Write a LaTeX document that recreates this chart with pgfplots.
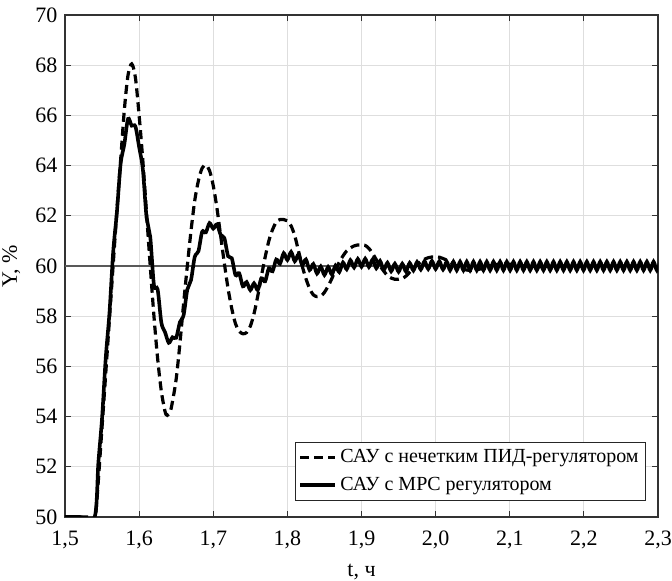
\documentclass[border=0pt]{standalone}
\usepackage{fontspec}
\setmainfont{Liberation Serif}
\usepackage{pgfplots}
\pgfplotsset{compat=1.18}

\begin{document}
\fontsize{11}{13}\selectfont
\begin{tikzpicture}
\begin{axis}[
  scale only axis, width=296.5pt, height=251pt,
  xmin=1.5, xmax=2.3, ymin=50, ymax=70,
  xtick={1.5,1.6,1.7,1.8,1.9,2.0,2.1,2.2,2.3},
  ytick={50,52,54,56,58,60,62,64,66,68,70},
  grid=major, grid style={black!13, line width=0.5pt},
  tick align=inside, major tick length=3pt,
  tick style={black!80, line width=0.5pt},
  axis line style={black!80, line width=0.6pt},
  tick label style={font=\fontsize{11}{13}\selectfont},
  label style={font=\fontsize{11}{13}\selectfont},
  /pgf/number format/assume math mode=true,
  x tick label style={yshift=-3pt, /pgf/number format/fixed, /pgf/number format/fixed zerofill, /pgf/number format/precision=1, /pgf/number format/use comma},
  xlabel={t, ч}, ylabel={Y, \%},
  legend style={at={(0.98,0.032)}, anchor=south east, draw=black!85, line width=0.5pt,
    font=\fontsize{10}{12}\selectfont, row sep=1.5pt, inner sep=1.5pt},
  legend cell align=left,
]
\coordinate (ll) at (rel axis cs:0,0);
\coordinate (ur) at (rel axis cs:1,1);
\addplot[black!65, line width=0.7pt, forget plot] coordinates {(1.5,60) (2.3,60)};

\addplot[black, line width=1.6pt, dash pattern=on 4.5pt off 2.5pt, smooth, tension=0.5] coordinates {
(1.500,50) (1.520,50) (1.535,50) (1.541,50) (1.550,53.6) (1.560,57.9) (1.570,62.2)
(1.575,64.2) (1.580,66.2) (1.585,67.6) (1.590,68.05) (1.595,67.5) (1.600,66.0)
(1.605,64.2) (1.610,62.1) (1.615,60.0) (1.620,58.0) (1.625,56.3) (1.630,55.0)
(1.635,54.2) (1.638,54.05) (1.642,54.2) (1.645,54.6) (1.650,55.5) (1.655,56.9)
(1.660,58.5) (1.665,60.0) (1.670,61.4) (1.675,62.6) (1.680,63.4) (1.685,63.9)
(1.690,64.02) (1.695,63.8) (1.700,63.2) (1.705,62.3) (1.710,61.2) (1.715,60.1)
(1.720,59.1) (1.725,58.3) (1.730,57.7) (1.735,57.4) (1.740,57.3) (1.745,57.35)
(1.750,57.6) (1.755,58.1) (1.760,58.8) (1.765,59.6) (1.770,60.35) (1.775,61.0)
(1.780,61.45) (1.785,61.75) (1.790,61.85) (1.795,61.85) (1.800,61.8) (1.805,61.6)
(1.810,61.2) (1.815,60.6) (1.820,60.0) (1.825,59.5) (1.830,59.1) (1.835,58.85)
(1.840,58.78) (1.845,58.8) (1.850,58.95) (1.855,59.2) (1.860,59.5) (1.865,59.85)
(1.870,60.15) (1.875,60.4) (1.880,60.6) (1.885,60.72) (1.890,60.8) (1.895,60.84)
(1.900,60.84) (1.905,60.82) (1.910,60.7) (1.915,60.5) (1.920,60.25) (1.925,60.0)
(1.930,59.8) (1.935,59.62) (1.940,59.52) (1.945,59.47) (1.950,59.47) (1.955,59.5)
(1.960,59.6) (1.965,59.75) (1.970,59.9) (1.975,60.05) (1.980,60.17) (1.985,60.27)
(1.990,60.33) (1.995,60.36) (2.000,60.36) (2.005,60.35) (2.010,60.3) (2.020,60.15)
(2.030,59.97) (2.040,59.85) (2.050,59.82) (2.060,59.88) (2.070,59.97) (2.080,60.05)
(2.090,60.08) (2.100,60.07) (2.120,60.0) (2.140,59.97) (2.160,60.0) (2.200,60.0)
(2.300,60.0)
};
\addlegendentry{САУ с нечетким ПИД-регулятором}

\addplot[black, line width=1.8pt, smooth, tension=0.5] coordinates {
(1.500,50) (1.520,50) (1.540,50) (1.545,52.16) (1.550,53.94) (1.555,56.36) (1.560,58.14)
(1.565,60.56) (1.570,62.14) (1.575,64.06) (1.580,64.84) (1.585,65.86) (1.590,65.59)
(1.595,65.56) (1.600,64.74) (1.605,63.86) (1.610,61.94) (1.615,61.16) (1.620,59.24)
(1.625,59.06) (1.630,57.74) (1.635,57.36) (1.640,56.94) (1.645,57.16) (1.650,57.14)
(1.655,57.76) (1.660,58.04) (1.665,59.06) (1.670,59.44) (1.675,60.36) (1.680,60.59)
(1.685,61.36) (1.690,61.34) (1.695,61.71) (1.700,61.49) (1.705,61.66) (1.710,61.24)
(1.715,61.11) (1.720,60.39) (1.725,60.31) (1.730,59.64) (1.735,59.71) (1.740,59.19)
(1.745,59.36) (1.750,59.04) (1.755,59.31) (1.760,59.04) (1.765,59.51) (1.770,59.39)
(1.775,59.91) (1.780,59.79) (1.785,60.26) (1.790,60.09) (1.795,60.51) (1.800,60.24)
(1.805,60.56) (1.810,60.19) (1.815,60.46) (1.820,60.04) (1.825,60.26) (1.830,59.84)
(1.835,60.08) (1.840,59.70) (1.845,59.98) (1.850,59.64) (1.855,59.96) (1.860,59.66)
(1.865,60.02) (1.870,59.76) (1.875,60.14) (1.880,59.87) (1.885,60.23) (1.890,59.94)
(1.895,60.28) (1.900,59.97) (1.905,60.29) (1.910,59.96) (1.915,60.26) (1.920,59.91)
(1.925,60.20) (1.930,59.84) (1.935,60.13) (1.940,59.79) (1.945,60.09) (1.950,59.77)
(1.955,60.09) (1.960,59.78) (1.965,60.12) (1.970,59.82) (1.975,60.16) (1.980,59.86)
(1.985,60.19) (1.990,59.88) (1.995,60.20) (2.000,59.88) (2.005,60.19) (2.010,59.86)
(2.0150,60.17) (2.0195,59.83) (2.0240,60.17) (2.0285,59.83) (2.0330,60.17) (2.0375,59.83)
(2.0420,60.17) (2.0465,59.83) (2.0510,60.17) (2.0555,59.83) (2.0600,60.17) (2.0645,59.83)
(2.0690,60.17) (2.0735,59.83) (2.0780,60.17) (2.0825,59.83) (2.0870,60.17) (2.0915,59.83)
(2.0960,60.17) (2.1005,59.83) (2.1050,60.17) (2.1095,59.83) (2.1140,60.17) (2.1185,59.83)
(2.1230,60.17) (2.1275,59.83) (2.1320,60.17) (2.1365,59.83) (2.1410,60.17) (2.1455,59.83)
(2.1500,60.17) (2.1545,59.83) (2.1590,60.17) (2.1635,59.83) (2.1680,60.17) (2.1725,59.83)
(2.1770,60.17) (2.1815,59.83) (2.1860,60.17) (2.1905,59.83) (2.1950,60.17) (2.1995,59.83)
(2.2040,60.17) (2.2085,59.83) (2.2130,60.17) (2.2175,59.83) (2.2220,60.17) (2.2265,59.83)
(2.2310,60.17) (2.2355,59.83) (2.2400,60.17) (2.2445,59.83) (2.2490,60.17) (2.2535,59.83)
(2.2580,60.17) (2.2625,59.83) (2.2670,60.17) (2.2715,59.83) (2.2760,60.17) (2.2805,59.83)
(2.2850,60.17) (2.2895,59.83) (2.2940,60.17) (2.2985,59.83) (2.3030,60.17)
};
\addlegendentry{САУ с MPC регулятором}
\end{axis}
\pgfresetboundingbox
\path ([shift={(-32.5pt,-32pt)}]ll) rectangle ([shift={(7pt,7.5pt)}]ur);
\end{tikzpicture}
\end{document}
